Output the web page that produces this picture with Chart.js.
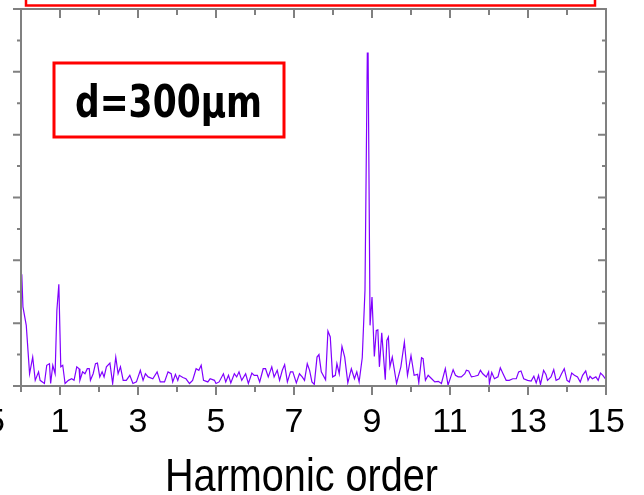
<!DOCTYPE html>
<html>
<head>
<meta charset="utf-8">
<script src="https://cdn.jsdelivr.net/npm/chart.js@4"></script>
<style>
  html, body { margin: 0; padding: 0; background: #fff; }
  #wrap { width: 644px; height: 495px; }
</style>
</head>
<body>
<div id="wrap"><canvas id="chart" width="644" height="495"></canvas></div>
<script>
// harmonic order (x) and signal (arb. units, y)
const harmonicOrder = [
  0.00, 0.02, 0.05, 0.135, 0.22, 0.30, 0.365, 0.45, 0.49, 0.60, 0.66, 0.73, 0.76, 0.815, 0.875, 0.92, 0.97,
  1.02, 1.07, 1.13, 1.215, 1.30, 1.36, 1.43, 1.49, 1.51, 1.58, 1.64, 1.70, 1.75, 1.78, 1.85, 1.91, 1.96,
  2.02, 2.08, 2.13, 2.19, 2.28, 2.35, 2.43, 2.49, 2.55, 2.62, 2.70, 2.79, 2.87, 2.96,
  3.06, 3.13, 3.19, 3.26, 3.38, 3.49, 3.57, 3.68, 3.77, 3.85, 3.89, 3.96,
  4.02, 4.06, 4.15, 4.23, 4.32, 4.40, 4.49, 4.56, 4.62, 4.68, 4.79, 4.85, 4.96,
  5.00, 5.08, 5.19, 5.25, 5.32, 5.38, 5.47, 5.53, 5.59, 5.66, 5.76, 5.83, 5.92, 5.98,
  6.06, 6.12, 6.21, 6.27, 6.34, 6.43, 6.49, 6.57, 6.63, 6.70, 6.76, 6.83, 6.91, 6.97,
  7.06, 7.14, 7.21, 7.27, 7.34, 7.40, 7.46, 7.52, 7.59, 7.64, 7.70, 7.81, 7.87, 7.93, 7.99,
  8.06, 8.10, 8.16, 8.23, 8.30, 8.38, 8.47, 8.55, 8.61, 8.67, 8.75, 8.82, 8.88, 8.90, 8.95, 9.00,
  9.06, 9.11, 9.15, 9.19, 9.25, 9.34, 9.38, 9.42, 9.46, 9.52, 9.63, 9.74, 9.83, 9.91,
  10.00, 10.08, 10.17, 10.20, 10.27, 10.31, 10.37, 10.44, 10.53, 10.61, 10.70, 10.78, 10.88, 10.95,
  11.02, 11.08, 11.14, 11.21, 11.29, 11.38, 11.42, 11.48, 11.55, 11.63, 11.72, 11.78, 11.84, 11.93, 11.99,
  12.01, 12.07, 12.14, 12.23, 12.29, 12.36, 12.44, 12.52, 12.61, 12.70, 12.76, 12.82, 12.89, 12.99,
  13.08, 13.15, 13.21, 13.27, 13.32, 13.40, 13.46, 13.50, 13.59, 13.66, 13.72, 13.80, 13.86, 13.93,
  14.00, 14.06, 14.12, 14.19, 14.27, 14.34, 14.40, 14.48, 14.54, 14.59, 14.65, 14.74, 14.80, 14.86, 14.92,
  15.00
];
const intensity = [
  3.37, 3.56, 2.52, 1.93, 0.39, 0.92, 0.18, 0.45, 0.18, 0.08, 0.66, 0.71, 0.08, 0.66, 0.39, 2.41, 3.24,
  0.61, 0.66, 0.08, 0.18, 0.23, 0.18, 0.61, 0.55, 0.18, 0.45, 0.39, 0.55, 0.55, 0.18, 0.39, 0.71, 0.73,
  0.29, 0.45, 0.29, 0.61, 0.73, 0.08, 0.92, 0.39, 0.61, 0.18, 0.18, 0.34, 0.08, 0.13,
  0.50, 0.18, 0.39, 0.29, 0.23, 0.45, 0.13, 0.13, 0.45, 0.39, 0.13, 0.37,
  0.18, 0.34, 0.27, 0.23, 0.08, 0.18, 0.55, 0.50, 0.66, 0.18, 0.13, 0.23, 0.18,
  0.08, 0.13, 0.39, 0.13, 0.34, 0.10, 0.39, 0.29, 0.45, 0.18, 0.39, 0.08, 0.41, 0.34,
  0.34, 0.13, 0.55, 0.55, 0.29, 0.61, 0.29, 0.50, 0.18, 0.50, 0.68, 0.13, 0.45, 0.45,
  0.10, 0.39, 0.29, 0.18, 0.71, 0.50, 0.13, 0.05, 0.92, 1.00, 0.45, 0.20, 1.75, 1.56, 0.29,
  0.34, 0.71, 0.39, 1.26, 0.92, 0.10, 0.55, 0.23, 0.45, 0.13, 0.90, 3.05, 10.6, 10.6, 1.93, 2.83,
  0.94, 1.77, 1.79, 0.61, 1.69, 0.20, 1.45, 1.56, 0.61, 0.92, 0.08, 0.61, 1.40, 0.34,
  0.97, 0.34, 0.37, 0.10, 0.90, 0.87, 0.18, 0.34, 0.23, 0.13, 0.15, 0.08, 0.55, 0.03,
  0.29, 0.52, 0.34, 0.29, 0.29, 0.39, 0.50, 0.48, 0.29, 0.31, 0.34, 0.50, 0.39, 0.29, 0.45,
  0.08, 0.43, 0.23, 0.29, 0.58, 0.39, 0.18, 0.18, 0.23, 0.23, 0.45, 0.48, 0.23, 0.18,
  0.16, 0.31, 0.10, 0.34, 0.05, 0.50, 0.37, 0.18, 0.29, 0.52, 0.18, 0.23, 0.39, 0.55,
  0.18, 0.13, 0.41, 0.34, 0.29, 0.13, 0.34, 0.48, 0.18, 0.31, 0.23, 0.29, 0.18, 0.41, 0.34,
  0.20
];
const xTickLabels = [1, 3, 5, 7, 9, 11, 13, 15];
const xMin = 0, xMax = 15;
const yMin = 0, yMax = 12;

const points = harmonicOrder.map((h, i) => ({ x: h, y: intensity[i] }));

// draw text squeezed horizontally
function squeezed(ctx, txt, cx, baseline, sx) {
  ctx.save();
  ctx.translate(cx, baseline);
  ctx.scale(sx, 1);
  ctx.textAlign = "center";
  ctx.textBaseline = "alphabetic";
  ctx.fillText(txt, 0, 0);
  ctx.restore();
}

const framePlugin = {
  id: "frame",
  afterDraw(chart) {
    const { ctx, chartArea: a, scales: { x, y } } = chart;
    ctx.save();
    ctx.strokeStyle = "#808080";
    ctx.lineWidth = 2;
    ctx.strokeRect(a.left, a.top, a.right - a.left, a.bottom - a.top);

    // x ticks: bottom outward, top inward
    ctx.beginPath();
    for (let v = xMin; v <= xMax; v++) {
      const px = x.getPixelForValue(v);
      const len = v % 2 === 1 ? 9 : 6;
      ctx.moveTo(px, a.bottom); ctx.lineTo(px, a.bottom + len);
      ctx.moveTo(px, a.top); ctx.lineTo(px, a.top + len);
    }
    // y ticks: left outward, right inward
    for (let v = yMin; v <= yMax; v++) {
      const py = y.getPixelForValue(v);
      const len = v % 2 === 0 ? 8 : 4;
      ctx.moveTo(a.left - len, py); ctx.lineTo(a.left, py);
      ctx.moveTo(a.right - len, py); ctx.lineTo(a.right, py);
    }
    ctx.stroke();

    // tick labels
    ctx.fillStyle = "#000";
    ctx.font = "34px 'Liberation Sans', Arial, sans-serif";
    xTickLabels.forEach(v => squeezed(ctx, String(v), x.getPixelForValue(v), 432, 1));
    // label of the neighbouring panel, cut by the page edge
    squeezed(ctx, "15", -14, 432, 1);

    // axis title
    ctx.font = "47px 'Liberation Sans', Arial, sans-serif";
    const t = "Harmonic order";
    squeezed(ctx, t, 301.5, 491, 273 / ctx.measureText(t).width);

    // sample label box
    ctx.strokeStyle = "#ff0000";
    ctx.lineWidth = 3;
    ctx.strokeRect(54, 63, 230, 74);
    ctx.font = "bold 44px 'DejaVu Sans', sans-serif";
    const d = "d=300μm";
    squeezed(ctx, d, 168.5, 117, 187 / ctx.measureText(d).width);

    // red box of the panel above, cut by the page edge
    ctx.lineWidth = 2.5;
    ctx.strokeRect(26, -20, 569, 25.5);
    ctx.restore();
  }
};

new Chart(document.getElementById("chart"), {
  type: "line",
  data: {
    datasets: [{
      data: points,
      borderColor: "#8000ff",
      borderWidth: 1.2,
      pointRadius: 0,
      tension: 0,
      fill: false
    }]
  },
  options: {
    responsive: false,
    animation: false,
    devicePixelRatio: 1,
    layout: { padding: { left: 21, top: 9, right: 38, bottom: 109 } },
    plugins: { legend: { display: false }, tooltip: { enabled: false } },
    scales: {
      x: { type: "linear", min: xMin, max: xMax, display: false },
      y: { type: "linear", min: yMin, max: yMax, display: false }
    }
  },
  plugins: [framePlugin]
});
</script>
</body>
</html>
